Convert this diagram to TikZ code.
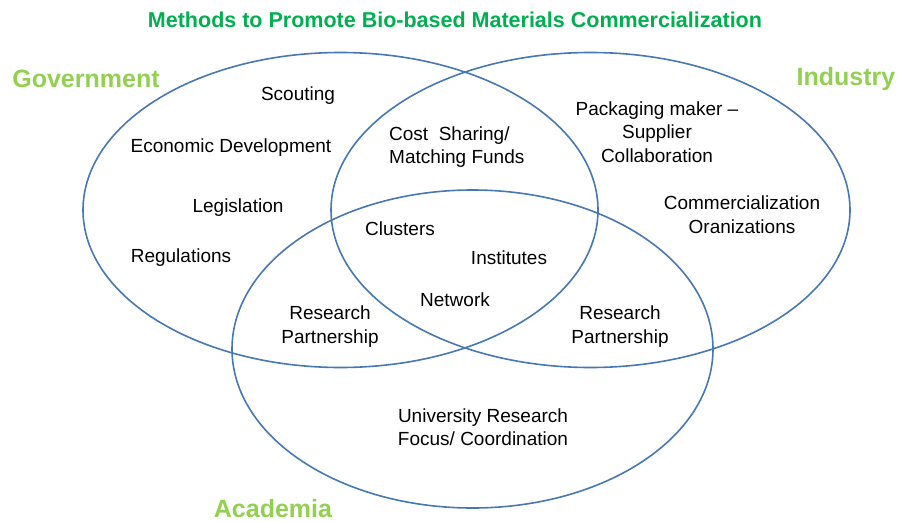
\documentclass[tikz,border=0pt]{standalone}
\usepackage{fontspec}
\setmainfont{Liberation Sans}
\definecolor{titlegreen}{RGB}{0,176,80}
\definecolor{lightgreen}{RGB}{146,208,80}
\definecolor{ringblue}{RGB}{70,120,180}
\begin{document}
\begin{tikzpicture}[x=1pt,y=-1pt,
  ring/.style={draw=ringblue,line width=1.6pt},
  body/.style={font=\fontsize{19}{23.5}\selectfont,text=black,align=center,inner sep=0pt},
  setlabel/.style={font=\fontsize{25}{28}\selectfont\bfseries,text=lightgreen,inner sep=0pt},
  heading/.style={font=\fontsize{21.5}{24}\selectfont\bfseries,text=titlegreen,inner sep=0pt}]
\useasboundingbox (0,0) rectangle (897,522);
% circles
\draw[ring] (340.5,210) ellipse [x radius=257.5, y radius=157.5];
\draw[ring] (590.5,210) ellipse [x radius=259.5, y radius=157.5];
\draw[ring] (472.5,349) ellipse [x radius=240.5, y radius=159];
% title and set labels
\node[heading] (title) at (455,20) {Methods to Promote Bio-based Materials Commercialization};
\node[setlabel] (gov) at (86,79) {Government};
\node[setlabel] (ind) at (846,79) {Industry};
\node[setlabel] (acad) at (273,509) {Academia};
% items
\node[body] (scout) at (298,96) {Scouting};
\node[body] (econ) at (231,148) {Economic Development};
\node[body] (legis) at (238,208) {Legislation};
\node[body] (regs) at (181,258) {Regulations};
\node[body,align=left,anchor=west] (cost) at (389,147) {Cost\ \ Sharing/\\Matching Funds};
\node[body] (pack) at (657,132) {Packaging maker --\\Supplier\\Collaboration};
\node[body] (comm) at (742,214.5) {Commercialization\\Oranizations};
\node[body] (clus) at (400,229) {Clusters};
\node[body] (inst) at (509,258) {Institutes};
\node[body] (net) at (455,300) {Network};
\node[body] (rpl) at (330,326.5) {Research\\Partnership};
\node[body] (rpr) at (620,326.5) {Research\\Partnership};
\node[body] (univ) at (483,427) {University Research\\Focus/ Coordination};
\end{tikzpicture}
\end{document}
